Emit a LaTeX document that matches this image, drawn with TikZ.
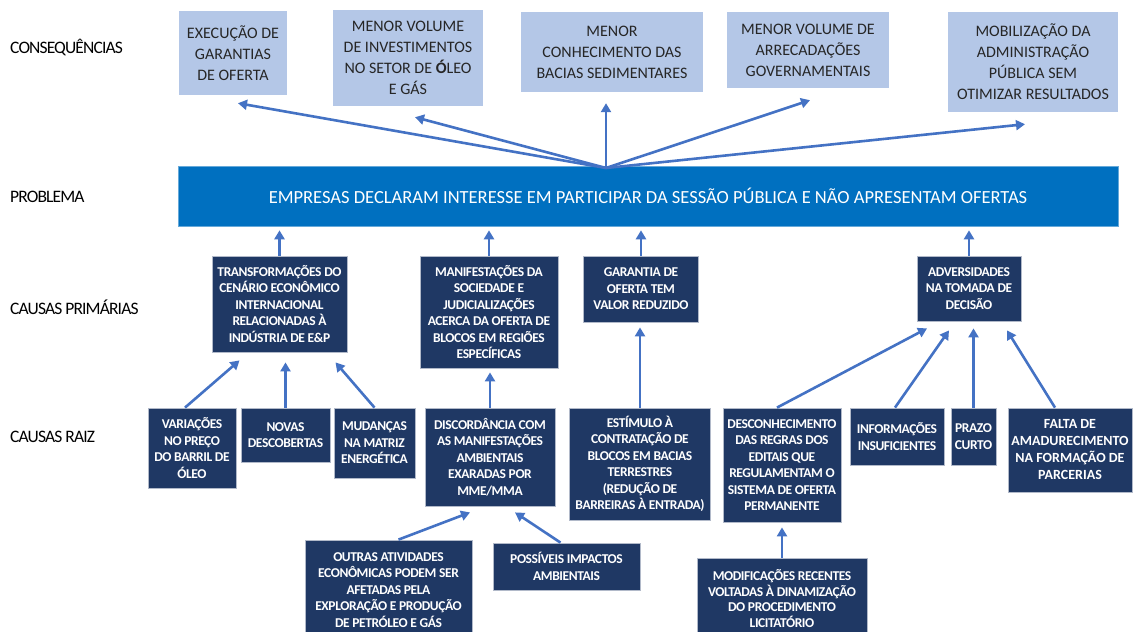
\documentclass[tikz,border=0pt]{standalone}
\usepackage{fontspec}
\setmainfont{Carlito}
\newfontfamily\condf[LetterSpace=-3]{Carlito}
\newfontfamily\labf[LetterSpace=-5]{Carlito}
\usetikzlibrary{arrows.meta,calc}
\definecolor{lightbox}{HTML}{B4C7E7}
\definecolor{barblue}{HTML}{0070C0}
\definecolor{navy}{HTML}{1F3864}
\definecolor{arrowblue}{HTML}{4472C4}
\begin{document}
\begin{tikzpicture}[x=1pt,y=-1pt,
  cons/.style={fill=lightbox, draw=none, align=center, inner sep=2pt, text=black!85,
    font=\fontsize{16}{21}\selectfont},
  dark/.style={fill=navy, draw=navy!35, line width=0.8pt, align=center, inner sep=2pt,
    text=white, font=\condf\bfseries\fontsize{13.5}{16.5}\selectfont},
  lab/.style={anchor=west, inner sep=0pt, text=black, font=\labf\fontsize{17.5}{20}\selectfont},
  arr/.style={draw=arrowblue, line width=2.6pt, -{Triangle[length=9pt,width=10pt]}},
]
\useasboundingbox (0,0) rectangle (1133,632);
\clip (0,0) rectangle (1133,632);
\fill[white] (0,0) rectangle (1133,632);

% left labels
\node[lab] (l1) at (10,47) {CONSEQUÊNCIAS};
\node[lab] (l2) at (10,197) {PROBLEMA};
\node[lab] (l3) at (10,307) {CAUSAS PRIMÁRIAS};
\node[lab] (l4) at (10,437) {CAUSAS RAIZ};

% consequences
\node[cons, minimum width=108, minimum height=84] (c1) at (233,53) {EXECUÇÃO DE\\GARANTIAS\\DE OFERTA};
\node[cons, minimum width=150, minimum height=96] (c2) at (408,58) {MENOR VOLUME\\DE INVESTIMENTOS\\NO SETOR DE \textbf{Ó}LEO\\E GÁS};
\node[cons, minimum width=182, minimum height=80] (c3) at (612,52) {MENOR\\CONHECIMENTO DAS\\BACIAS SEDIMENTARES};
\node[cons, minimum width=162, minimum height=76] (c4) at (808,50) {MENOR VOLUME DE\\ARRECADAÇÕES\\GOVERNAMENTAIS};
\node[cons, minimum width=170, minimum height=100] (c5) at (1033,62) {MOBILIZAÇÃO DA\\ADMINISTRAÇÃO\\PÚBLICA SEM\\OTIMIZAR RESULTADOS};

% problem
\node[fill=barblue, draw=barblue!60, line width=0.6pt, text=white, minimum width=940, minimum height=60,
  font=\fontsize{18.5}{22}\selectfont] (bar) at (648,196)
  {EMPRESAS DECLARAM INTERESSE EM PARTICIPAR DA SESSÃO PÚBLICA E NÃO APRESENTAM OFERTAS};
\coordinate (fan) at (606,168);

% primary causes
\node[dark, minimum width=135, minimum height=96] (p1) at (279.5,304) {TRANSFORMAÇÕES DO\\CENÁRIO ECONÔMICO\\INTERNACIONAL\\RELACIONADAS À\\INDÚSTRIA DE E\&P};
\node[dark, minimum width=138, minimum height=112] (p2) at (489,312) {MANIFESTAÇÕES DA\\SOCIEDADE E\\JUDICIALIZAÇÕES\\ACERCA DA OFERTA DE\\BLOCOS EM REGIÕES\\ESPECÍFICAS};
\node[dark, minimum width=115, minimum height=66] (p3) at (641,289) {GARANTIA DE\\OFERTA TEM\\VALOR REDUZIDO};
\node[dark, minimum width=104, minimum height=65] (p4) at (969,288.5) {ADVERSIDADES\\NA TOMADA DE\\DECISÃO};

% root causes
\node[dark, minimum width=88, minimum height=80] (r1) at (192,448) {VARIAÇÕES\\NO PREÇO\\DO BARRIL DE\\ÓLEO};
\node[dark, minimum width=89, minimum height=54] (r2) at (285.5,435) {NOVAS\\DESCOBERTAS};
\node[dark, minimum width=81, minimum height=70] (r3) at (374.5,443) {MUDANÇAS\\NA MATRIZ\\ENERGÉTICA};
\node[dark, minimum width=130, minimum height=98] (r4) at (490,457) {DISCORDÂNCIA COM\\AS MANIFESTAÇÕES\\AMBIENTAIS\\EXARADAS POR\\MME/MMA};
\node[dark, minimum width=141, minimum height=112] (r5) at (640,464) {ESTÍMULO À\\CONTRATAÇÃO DE\\BLOCOS EM BACIAS\\TERRESTRES\\(REDUÇÃO DE\\BARREIRAS À ENTRADA)};
\node[dark, minimum width=118, minimum height=114] (r6) at (782,465) {DESCONHECIMENTO\\DAS REGRAS DOS\\EDITAIS QUE\\REGULAMENTAM O\\SISTEMA DE OFERTA\\PERMANENTE};
\node[dark, minimum width=94, minimum height=57] (r7) at (897,436.5) {INFORMAÇÕES\\INSUFICIENTES};
\node[dark, minimum width=45, minimum height=57] (r8) at (973.5,436.5) {PRAZO\\CURTO};
\node[dark, minimum width=124, minimum height=84, font=\bfseries\fontsize{14}{17}\selectfont] (r9) at (1070,450) {FALTA DE\\AMADURECIMENTO\\NA FORMAÇÃO DE\\PARCERIAS};

% bottom
\node[dark, minimum width=167, minimum height=100] (b1) at (388.5,590) {OUTRAS ATIVIDADES\\ECONÔMICAS PODEM SER\\AFETADAS PELA\\EXPLORAÇÃO E PRODUÇÃO\\DE PETRÓLEO E GÁS};
\node[dark, minimum width=147, minimum height=47] (b2) at (566.5,566.5) {POSSÍVEIS IMPACTOS\\AMBIENTAIS};
\node[dark, minimum width=170, minimum height=80, font=\condf\bfseries\fontsize{13.5}{15.8}\selectfont] (b3) at (782,598.5) {MODIFICAÇÕES RECENTES\\VOLTADAS À DINAMIZAÇÃO\\DO PROCEDIMENTO\\LICITATÓRIO};

% arrows: problem -> consequences
\draw[arr] (fan) -- ($(c1.south)+(5,8)$);
\draw[arr] (fan) -- ($(c2.south)+(7,11)$);
\draw[arr] (fan) -- ($(fan|-c3.south)+(0,11)$);
\draw[arr] (fan) -- ($(c4.south)+(2,12)$);
\draw[arr] (fan) -- ($(c5.south)+(-8,12)$);

% primary -> problem
\draw[arr] (p1.north) -- ($(p1.north|-bar.south)+(0,4)$);
\draw[arr] (p2.north) -- ($(p2.north|-bar.south)+(0,4)$);
\draw[arr] (p3.north) -- ($(p3.north|-bar.south)+(0,4)$);
\draw[arr] (p4.north) -- ($(p4.north|-bar.south)+(0,4)$);

% root -> primary
\draw[arr] ($(r1.north)+(-7,0)$) -- ($(p1.south)+(-40,8)$);
\draw[arr] (r2.north) -- ($(r2.north|-p1.south)+(0,10)$);
\draw[arr] (r3.north) -- ($(p1.south)+(56,10)$);
\draw[arr] (r4.north) -- ($(r4.north|-p2.south)+(0,4)$);
\draw[arr] (r5.north) -- ($(r5.north|-p3.south)+(0,5)$);
\draw[arr] ($(r6.north)+(-5,0)$) -- ($(p4.south)+(-42,7)$);
\draw[arr] ($(r7.north)+(-2,0)$) -- ($(p4.south)+(-20,9)$);
\draw[arr] (r8.north) -- ($(r8.north|-p4.south)+(0,7)$);
\draw[arr] ($(r9.north)+(-15,0)$) -- ($(p4.south)+(38,9)$);

% bottom -> root
\draw[arr] ($(b1.north)+(10,0)$) -- ($(r4.south)+(-20,6)$);
\draw[arr] ($(b2.north)+(-6,0)$) -- ($(r4.south)+(25,6)$);
\draw[arr] (b3.north) -- ($(b3.north|-r6.south)+(0,5)$);
\end{tikzpicture}
\end{document}
